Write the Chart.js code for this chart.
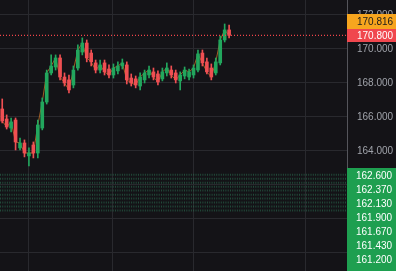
<!DOCTYPE html>
<html>
<head>
<meta charset="utf-8">
<script src="https://cdn.jsdelivr.net/npm/chart.js@4.4.1/dist/chart.umd.min.js"></script>
<style>
html,body{margin:0;padding:0;background:#141317;overflow:hidden;}
canvas{display:block;}
</style>
</head>
<body>
<canvas id="c" width="396" height="271"></canvas>
<script>
// ---- data ----
const candleOpen  = [166.47,165.88,165.35,165.82,164.18,164.47,163.71,164.35,163.88,165.35,166.88,168.59,168.94,169.47,168.35,168.18,167.88,168.88,169.82,170.35,169.76,169.18,168.76,169.18,168.82,168.47,168.71,169.00,169.06,168.29,168.24,167.82,168.18,168.47,168.65,168.53,168.24,168.59,168.76,168.59,168.12,168.41,168.35,168.47,168.76,169.76,169.24,168.88,168.59,169.18,170.53,171.12];
const candleHigh  = [167.06,166.12,165.94,165.94,164.76,164.65,164.18,164.53,165.82,167.12,168.76,169.65,169.65,169.65,168.59,168.47,169.00,170.24,170.65,170.53,169.94,169.35,169.35,169.35,169.06,169.12,169.24,169.41,169.24,168.53,168.41,168.59,168.76,169.00,168.88,168.71,168.88,169.18,169.00,168.76,168.65,168.94,168.82,169.06,169.94,169.94,169.47,169.12,169.47,170.76,171.47,171.41];
const candleLow   = [165.65,165.29,165.12,164.06,164.06,163.65,163.12,163.59,163.59,165.24,166.76,168.47,168.76,168.18,167.82,167.41,167.71,168.76,169.65,169.24,169.00,168.59,168.59,168.47,168.29,168.29,168.53,168.82,167.94,167.82,167.71,167.59,168.00,168.29,168.18,167.88,168.12,168.41,168.29,168.00,167.59,168.24,168.18,168.29,168.65,169.00,168.53,168.18,168.47,169.06,170.41,170.65];
const candleClose = [165.76,165.41,165.71,164.53,164.47,163.88,163.88,163.88,165.53,166.88,168.59,169.00,169.47,168.35,168.00,167.59,168.76,169.94,170.35,169.47,169.24,168.76,169.06,168.65,168.47,168.88,169.00,169.18,168.18,168.00,167.88,168.35,168.59,168.76,168.35,168.06,168.65,168.88,168.47,168.18,168.47,168.76,168.65,168.88,169.71,169.18,168.65,168.35,169.24,170.53,171.12,170.80];
const lastPrice = 170.800;
const markPrice = 170.816;
const levelPrices = [162.600,162.370,162.130,161.900,161.670,161.430,161.200,160.970,160.730,160.500];
const levelLabels = ['162.600','162.370','162.130','161.900','161.670','161.430','161.200'];
const timeGrid = [6, 24.7, 43.1, 68.1];
const xMin = -0.5, xMax = 77.5;
const yMin = 156.94, yMax = 172.88;

// ---- styles ----
const UP = '#22a65d', DOWN = '#ef4f52';
const BG = '#141317', GRID = '#29292e';
const FONT = '"Liberation Sans", Arial, sans-serif';

const idx = candleOpen.map((_, i) => i);
const isUp = idx.map(i => candleClose[i] >= candleOpen[i]);
const colors = isUp.map(u => u ? UP : DOWN);

const datasets = [];
datasets.push({
  type: 'bar', data: idx.map(i => ({x: i, y: [candleLow[i], candleHigh[i]]})),
  backgroundColor: colors, barThickness: 1, grouped: false, order: 3
});
datasets.push({
  type: 'bar', data: idx.map(i => ({x: i, y: [candleOpen[i], candleClose[i]]})),
  backgroundColor: colors, barThickness: 3, grouped: false, order: 2, minBarLength: 1
});
datasets.push({
  type: 'line', data: idx.map(i => ({x: i, y: candleClose[i]})),
  borderColor: 'rgba(196,112,40,0.8)', borderWidth: 1, pointRadius: 0, order: 4, tension: 0
});
levelPrices.forEach(p => datasets.push({
  type: 'line', data: [{x: xMin, y: p}, {x: xMax, y: p}],
  borderColor: 'rgba(52,150,105,0.42)', borderWidth: 2, borderDash: [1, 1.3],
  pointRadius: 0, order: 5
}));
datasets.push({
  type: 'line', data: [{x: xMin, y: lastPrice}, {x: xMax, y: lastPrice}],
  borderColor: '#f0444a', borderWidth: 1.3, borderDash: [1, 2], pointRadius: 0, order: 1
});

const bgPlugin = {
  id: 'bg',
  beforeDraw(chart) {
    const c = chart.ctx;
    c.save(); c.fillStyle = BG; c.fillRect(0, 0, chart.width, chart.height); c.restore();
  }
};

const labelsPlugin = {
  id: 'priceLabels',
  afterDraw(chart) {
    const c = chart.ctx, ys = chart.scales.y, ca = chart.chartArea;
    const left = ca.right, w = chart.width - ca.right;
    c.save();
    c.font = '10px ' + FONT;
    c.textBaseline = 'middle';
    c.textAlign = 'left';
    const cy = ys.getPixelForValue(lastPrice);
    const rTop = Math.round(cy - 6.5);
    c.fillStyle = '#f0474e';
    c.fillRect(left, rTop, w, 13);
    c.fillStyle = '#ffffff';
    c.fillText(lastPrice.toFixed(3), left + 10, rTop + 7);
    c.fillStyle = '#f7a51e';
    c.fillRect(left, rTop - 15, w, 15);
    c.fillStyle = '#1b1b1b';
    c.fillText(markPrice.toFixed(3), left + 10, rTop - 7);
    const gTop = 168;
    c.fillStyle = '#1e9f50';
    c.fillRect(left, gTop, w, chart.height - gTop);
    c.fillStyle = '#ffffff';
    levelLabels.forEach((t, k) => c.fillText(t, left + 9, 176 + k * 14));
    c.restore();
  }
};

new Chart(document.getElementById('c'), {
  type: 'bar',
  data: { datasets },
  options: {
    responsive: false, animation: false, devicePixelRatio: 1,
    layout: { padding: 0 },
    plugins: { legend: { display: false }, tooltip: { enabled: false } },
    scales: {
      x: {
        type: 'linear', min: xMin, max: xMax, offset: false,
        grid: { color: GRID, drawTicks: false, offset: false },
        border: { display: false },
        ticks: { display: false },
        afterBuildTicks: s => { s.ticks = timeGrid.map(v => ({ value: v })); },
        afterFit: s => { s.height = 0; s.paddingLeft = 0; s.paddingRight = 0; s.paddingTop = 0; s.paddingBottom = 0; }
      },
      y: {
        position: 'right', min: yMin, max: yMax,
        grid: { color: GRID, drawTicks: false },
        border: { display: true, color: '#55555b' },
        ticks: {
          stepSize: 2, includeBounds: false, padding: 10,
          color: '#a0a3aa', font: { family: FONT, size: 10 },
          callback: v => Number(v).toFixed(3)
        },
        afterFit: s => { s.width = 49; s.paddingTop = 0; s.paddingBottom = 0; s.paddingLeft = 0; s.paddingRight = 0; }
      }
    }
  },
  plugins: [bgPlugin, labelsPlugin]
});
</script>
</body>
</html>
